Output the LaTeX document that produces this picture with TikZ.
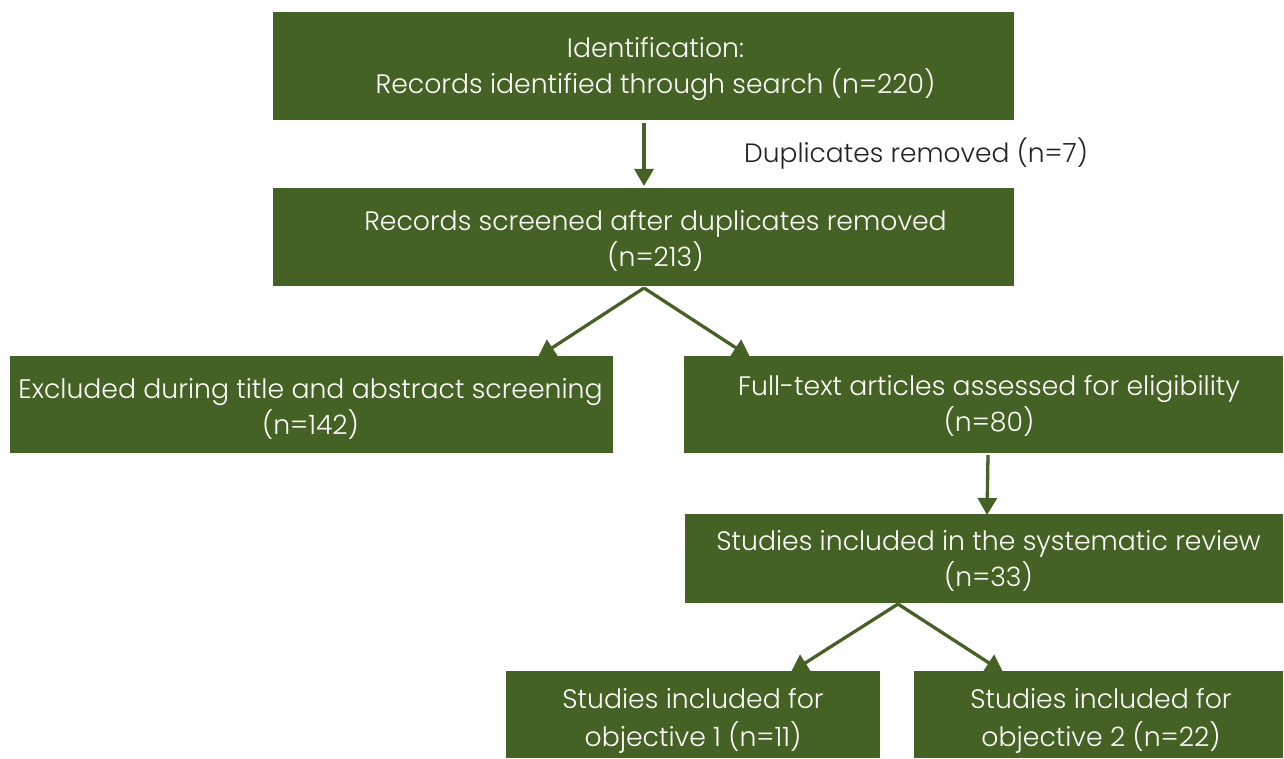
\documentclass[tikz,border=0pt]{standalone}
\usepackage{fontspec}
\setmainfont{Poppins Light}
\usetikzlibrary{arrows.meta}
\definecolor{boxgreen}{HTML}{446223}
\definecolor{txtgray}{HTML}{222222}
\tikzset{
  box/.style={fill=boxgreen, draw=none, inner sep=0pt},
  boxtext/.style={text=white, align=center, font=\fontsize{26.7}{36}\selectfont, inner sep=0pt},
  conn/.style={draw=boxgreen, line width=3.3pt, -{Triangle[length=17pt,width=19pt]}, shorten >=0pt},
}
\begin{document}
\begin{tikzpicture}[x=1pt,y=-1pt]
\useasboundingbox (0,0) rectangle (1284,759);
\node[box, minimum width=741pt, minimum height=108pt] (ident) at (643.5,66) {};
\node[boxtext] (identtxt) at (655.5,69) {Identification:\\Records identified through search (n=220)};
\node[box, minimum width=741pt, minimum height=98pt] (screen) at (643.5,237) {};
\node[boxtext] (screentxt) at (655.5,241) {Records screened after duplicates removed\\(n=213)};
\node[box, minimum width=603pt, minimum height=97pt] (excl) at (311.5,404.5) {};
\node[boxtext] (excltxt) at (310.5,409) {Excluded during title and abstract screening\\(n=142)};
\node[box, minimum width=599pt, minimum height=97pt] (full) at (983.5,404.5) {};
\node[boxtext] (fulltxt) at (989,406) {Full-text articles assessed for eligibility\\(n=80)};
\node[box, minimum width=598pt, minimum height=89pt] (incl) at (984,558.5) {};
\node[boxtext] (incltxt) at (988.5,561) {Studies included in the systematic review\\(n=33)};
\node[box, minimum width=374pt, minimum height=87pt] (obj1) at (693,714.5) {};
\node[boxtext, font=\fontsize{26.7}{38}\selectfont] (obj1txt) at (693,721) {Studies included for\\objective 1 (n=11)};
\node[box, minimum width=369pt, minimum height=87pt] (obj2) at (1098.5,714.5) {};
\node[boxtext, font=\fontsize{26.7}{38}\selectfont] (obj2txt) at (1101,721) {Studies included for\\objective 2 (n=22)};
\node[text=txtgray, font=\fontsize{26.5}{36}\selectfont, anchor=west, inner sep=0pt] (dup) at (744,154) {Duplicates removed (n=7)};
\coordinate (a1) at (644,123);
\coordinate (a2) at (644,186);
\coordinate (b) at (644,288);
\coordinate (c3) at (538,357);
\coordinate (c4) at (750,357);
\coordinate (d1) at (988,455);
\coordinate (d2) at (987,515);
\coordinate (e) at (898,604);
\coordinate (f6) at (791,672);
\coordinate (f7) at (1003,672);
\draw[conn] (a1) -- (a2);
\draw[conn] (b) -- (c3);
\draw[conn] (b) -- (c4);
\draw[conn] (d1) -- (d2);
\draw[conn] (e) -- (f6);
\draw[conn] (e) -- (f7);
\end{tikzpicture}
\end{document}
